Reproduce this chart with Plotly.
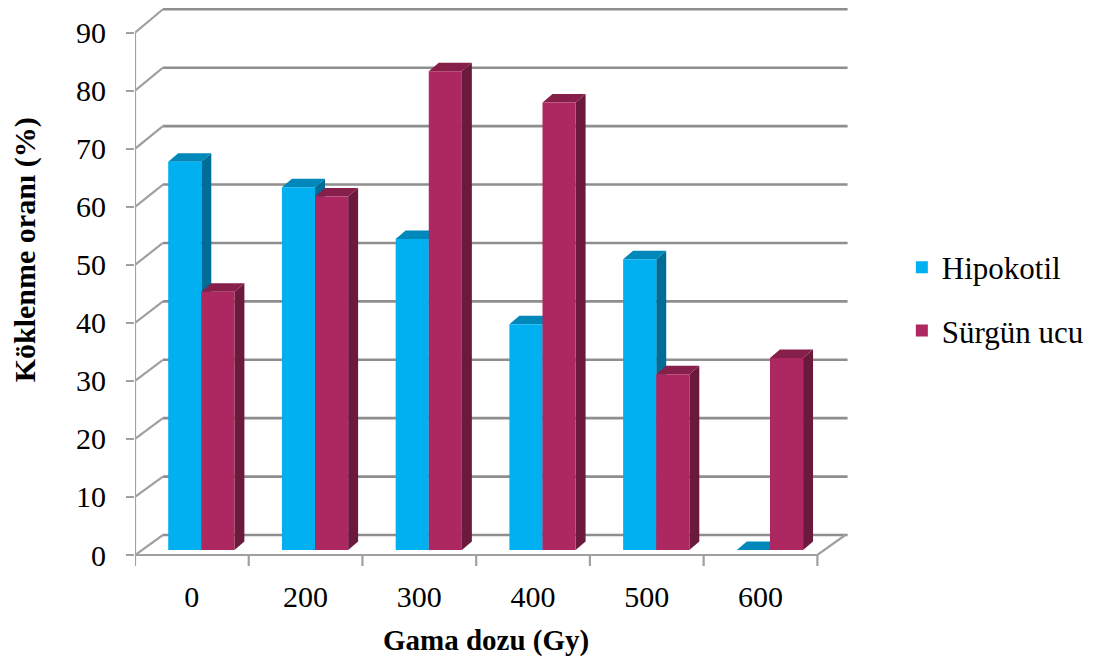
import plotly.graph_objects as go

# ---- data -------------------------------------------------------------
doses = ["0", "200", "300", "400", "500", "600"]          # Gama dozu (Gy)
hipokotil = [66.9, 62.5, 53.6, 38.9, 50.1, 0.0]           # Köklenme oranı (%)
surgun_ucu = [44.5, 60.9, 82.5, 77.1, 30.3, 33.1]
y_ticks = list(range(0, 100, 10))

series = [
    ("Hipokotil", hipokotil, "#00B0F0", "#0088BA", "#006D96"),
    ("Sürgün ucu", surgun_ucu, "#AD2760", "#871F4B", "#6B1A3D"),
]

# ---- oblique 3-D geometry (pixel sizes converted to data units) --------
W, H = 1094, 660
LEFT, RIGHT, TOP, BOTTOM = 135, 850, 5, 568
FLOOR_PX = 555
PX_CAT = 114.05          # px per category along the front floor edge
PX_VAL = 5.803           # px per percentage point

WALL_DX = 28 / PX_CAT                      # depth of the walls, x-direction
WALL_DY0 = 20 / PX_VAL                     # depth of the walls, y-direction
WALL_SLOPE = 1.0066                        # back wall is drawn slightly larger


def back(v):
    return WALL_DY0 + WALL_SLOPE * v


BAR_OFF = 33.3 / PX_CAT   # front face offset inside a category
BAR_W = 33.2 / PX_CAT     # front face width
BAR_BASE = 5 / PX_VAL     # bars stand a little behind the front edge
BAR_DX = 10 / PX_CAT      # bar depth
BAR_DY = 8.5 / PX_VAL
TICK = 11 / PX_VAL

n = len(doses)
SERIF = "Liberation Serif"

fig = go.Figure()

# ---- walls, floor and grid --------------------------------------------
gx, gy = [], []
for v in y_ticks:
    gx += [WALL_DX, n + WALL_DX + 0.02, None]
    gy += [back(v), back(v), None]
fig.add_trace(go.Scatter(x=gx, y=gy, mode="lines", hoverinfo="skip",
                         line=dict(color="#8E8E8E", width=2.6),
                         showlegend=False, cliponaxis=False))

ex, ey = [], []
for v in y_ticks:                         # left side wall
    ex += [0, WALL_DX, None]
    ey += [v, back(v), None]
ex += [0, 0, None]; ey += [0, y_ticks[-1], None]           # front axis
ex += [0, n, n + WALL_DX, None]; ey += [0, 0, back(0), None]  # floor edges
for i in range(n + 1):                    # category boundary ticks
    ex += [i, i, None]
    ey += [0, -TICK, None]
fig.add_trace(go.Scatter(x=ex, y=ey, mode="lines", hoverinfo="skip",
                         line=dict(color="#A0A0A0", width=2.2),
                         showlegend=False, cliponaxis=False))

# ---- bars: side and top faces as polygons, front face as a bar ---------
for k, (name, vals, c_front, c_top, c_side) in enumerate(series):
    sx, sy, tx, ty = [], [], [], []
    xs = []
    for i, v in enumerate(vals):
        x0 = i + BAR_OFF + k * BAR_W
        x1 = x0 + BAR_W
        top = BAR_BASE + v
        xs.append(x0 + BAR_W / 2)
        sx += [x1, x1 + BAR_DX, x1 + BAR_DX, x1, x1, None]
        sy += [BAR_BASE, BAR_BASE + BAR_DY, top + BAR_DY, top, BAR_BASE, None]
        tx += [x0, x1, x1 + BAR_DX, x0 + BAR_DX, x0, None]
        ty += [top, top, top + BAR_DY, top + BAR_DY, top, None]
    fig.add_trace(go.Scatter(x=sx, y=sy, mode="lines", fill="toself",
                             fillcolor=c_side, line=dict(width=0),
                             hoverinfo="skip", showlegend=False))
    fig.add_trace(go.Scatter(x=tx, y=ty, mode="lines", fill="toself",
                             fillcolor=c_top, line=dict(width=0),
                             hoverinfo="skip", showlegend=False))
    fig.add_trace(go.Bar(x=xs, y=vals, base=BAR_BASE, width=BAR_W, name=name,
                         marker=dict(color=c_front, line=dict(width=0)),
                         legendgroup=name, zorder=1))

# ---- layout ----------------------------------------------------------
fig.update_layout(
    width=W, height=H,
    margin=dict(l=LEFT, r=W - RIGHT, t=TOP, b=H - BOTTOM),
    paper_bgcolor="white", plot_bgcolor="white",
    barmode="overlay",
    font=dict(family=SERIF, color="black"),
    xaxis=dict(range=[0, (RIGHT - LEFT) / PX_CAT],
               tickvals=[i + 0.5 for i in range(n)], ticktext=doses,
               ticks="", showgrid=False, zeroline=False, showline=False,
               tickfont=dict(family=SERIF, size=30, color="black"),
               ticklabelstandoff=8, fixedrange=True),
    yaxis=dict(range=[-(BOTTOM - FLOOR_PX) / PX_VAL, (FLOOR_PX - TOP) / PX_VAL],
               tickvals=y_ticks, ticks="outside", ticklen=8, tickwidth=2,
               tickcolor="#A0A0A0", showgrid=False, zeroline=False,
               showline=False,
               tickfont=dict(family=SERIF, size=30, color="black"),
               ticklabelstandoff=14, fixedrange=True),
    legend=dict(x=(904 - LEFT) / (RIGHT - LEFT), xanchor="left",
                y=(BOTTOM - 299) / (BOTTOM - TOP), yanchor="middle",
                font=dict(family=SERIF, size=31, color="black"),
                tracegroupgap=20, bgcolor="rgba(0,0,0,0)"),
    annotations=[
        dict(text="<b>Gama dozu (Gy)</b>", xref="paper", yref="paper",
             x=(487 - LEFT) / (RIGHT - LEFT), y=(BOTTOM - 640) / (BOTTOM - TOP),
             xanchor="center", yanchor="middle", showarrow=False,
             font=dict(family=SERIF, size=29, color="black")),
        dict(text="<b>Köklenme oranı (%)</b>", xref="paper", yref="paper",
             x=(25 - LEFT) / (RIGHT - LEFT), y=(BOTTOM - 250) / (BOTTOM - TOP),
             xanchor="center", yanchor="middle", textangle=-90, showarrow=False,
             font=dict(family=SERIF, size=30, color="black")),
    ],
)

fig.write_html("out.html")
